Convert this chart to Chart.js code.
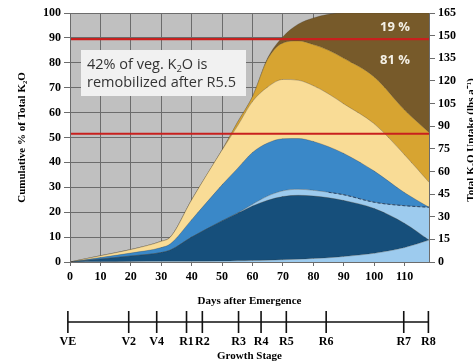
<!DOCTYPE html>
<html>
<head>
<meta charset="utf-8">
<script src="https://cdn.jsdelivr.net/npm/chart.js@4.4.1/dist/chart.umd.min.js"></script>
<style>
  html, body { margin: 0; padding: 0; background: #fff; }
</style>
</head>
<body>
<canvas id="k2o" width="473" height="361"></canvas>
<script>
// days after emergence where the band boundaries are sampled
const days = [0, 10, 20, 30, 33, 40, 50, 55, 60, 65, 70, 75, 80, 85, 90, 100, 110, 118];

// cumulative top of each band, % of total K2O (bottom band first)
const baseBlue   = [0, 0.1, 0.2, 0.3, 0.3, 0.3, 0.4, 0.5, 0.6, 0.7, 0.9, 1.1, 1.4, 1.7, 2.2, 3.5, 5.8, 8.8];
const darkBlue   = [0, 1.2, 2.4, 3.8, 4.8, 10, 16.5, 19.5, 22.5, 24.8, 26.3, 26.8, 26.5, 25.8, 24.7, 21.5, 15.5, 8.8];
const lightBlue  = [0, 1.2, 2.4, 3.8, 4.8, 10, 16.5, 19.6, 23.2, 26.5, 28.6, 29.2, 28.8, 28.0, 27.0, 24.0, 22.6, 22];
const midBlue    = [0, 1.8, 3.6, 5.8, 7.3, 17, 31, 37.5, 44, 47.8, 49.5, 49.6, 48.4, 46.3, 43.6, 36.5, 27.8, 22];
const paleYellow = [0, 2.5, 5, 8.3, 10, 25, 45, 54.5, 64.5, 70.3, 73.3, 73, 70.8, 67.5, 63.5, 55.5, 43, 32];
const gold       = [0, 2.5, 5, 8.3, 10, 25, 45, 56, 66.5, 81.5, 88, 88.8, 87.3, 85, 81.8, 74.3, 61, 52];
const brown      = [0, 2.5, 5, 8.3, 10, 25, 45, 56, 66.5, 82, 90.5, 95.5, 98, 99.5, 100, 100, 100, 100];

// the light blue edge is dashed from this day on
const dashFrom = 85;

// reference levels (red lines)
const refLevels = [89.5, 51.5];

// growth stages along the day axis
const stageNames = ["VE", "V2", "V4", "R1", "R2", "R3", "R4", "R5", "R6", "R7", "R8"];
const stageDays  = [-0.7, 19.3, 28.5, 38.3, 43.5, 55.4, 62.8, 71.1, 84.2, 109.7, 117.8];

const uptakeTicks = [0, 15, 30, 45, 60, 75, 90, 105, 120, 135, 150, 165];

const serif = "'Liberation Serif', 'Times New Roman', serif";
const sans = "'Open Sans', 'Noto Sans', sans-serif";

function points(values) {
  return days.map((d, i) => ({ x: d, y: values[i] }));
}

function band(values, color, fill) {
  return {
    data: points(values),
    backgroundColor: color,
    borderColor: "rgba(50,40,25,0.35)",
    borderWidth: 0.7,
    pointRadius: 0,
    cubicInterpolationMode: "monotone",
    fill: fill,
  };
}

function refLine(v) {
  return {
    data: [{ x: 0, y: v }, { x: 118, y: v }],
    borderColor: "#c8201e",
    borderWidth: 2.2,
    pointRadius: 0,
    fill: false,
    order: -1,
  };
}

const dashedEdge = {
  data: points(lightBlue).filter((p) => p.x >= dashFrom),
  borderColor: "#24466e",
  borderWidth: 1,
  borderDash: [3, 2],
  pointRadius: 0,
  cubicInterpolationMode: "monotone",
  fill: false,
  order: -1,
};

const datasets = [
  band(baseBlue, "#9dcbee", "origin"),
  band(darkBlue, "#164f7b", "-1"),
  band(lightBlue, "#9dcbee", "-1"),
  band(midBlue, "#3a88c8", "-1"),
  band(paleYellow, "#f9dc96", "-1"),
  band(gold, "#d7a431", "-1"),
  band(brown, "#775a2a", "-1"),
  dashedEdge,
].concat(refLevels.map(refLine));

// grey plot background, annotations, right title and the growth stage scale
const decor = {
  id: "decor",
  beforeDraw(chart) {
    const { ctx, chartArea: a } = chart;
    ctx.save();
    ctx.fillStyle = "#c0c0c0";
    ctx.fillRect(a.left, a.top, a.right - a.left, a.bottom - a.top);
    ctx.restore();
  },
  afterDraw(chart) {
    const { ctx } = chart;
    const xs = chart.scales.x;
    ctx.save();

    // note box
    ctx.fillStyle = "#f1f1f1";
    ctx.fillRect(81, 50, 165, 46);
    ctx.fillStyle = "#333";
    ctx.textBaseline = "middle";
    ctx.textAlign = "left";
    const big = "14.5px " + sans;
    const small = "9.5px " + sans;
    let x = 87;
    ctx.font = big;
    ctx.fillText("42% of veg. K", x, 65);
    x += ctx.measureText("42% of veg. K").width;
    ctx.font = small;
    ctx.fillText("2", x, 69);
    x += ctx.measureText("2").width;
    ctx.font = big;
    ctx.fillText("O is", x, 65);
    ctx.fillText("remobilized after R5.5", 87, 83);

    // percentages in the brown band
    ctx.fillStyle = "#f4f0e6";
    ctx.font = "bold 13px " + sans;
    ctx.textAlign = "center";
    ctx.fillText("19 %", 395, 27);
    ctx.fillText("81 %", 395, 60);

    // right axis title, cut by the canvas edge
    ctx.fillStyle = "#000";
    ctx.font = "bold 11px " + serif;
    ctx.translate(471, 140);
    ctx.rotate(-Math.PI / 2);
    ctx.fillText("Total K\u2082O Uptake (lbs a\u207B\u00B9)", 0, 0);
    ctx.setTransform(1, 0, 0, 1, 0, 0);

    // growth stage scale
    const lineY = 322;
    const px = stageDays.map((d) => xs.getPixelForValue(d));
    ctx.strokeStyle = "#111";
    ctx.lineWidth = 1.6;
    ctx.beginPath();
    ctx.moveTo(px[0], lineY);
    ctx.lineTo(px[px.length - 1], lineY);
    px.forEach((p) => {
      ctx.moveTo(p, lineY - 11);
      ctx.lineTo(p, lineY + 11);
    });
    ctx.stroke();
    ctx.fillStyle = "#000";
    ctx.font = "bold 12px " + serif;
    ctx.textAlign = "center";
    stageNames.forEach((s, i) => ctx.fillText(s, px[i], 342));
    ctx.font = "bold 11px " + serif;
    ctx.fillText("Growth Stage", (xs.left + xs.right) / 2, 356);
    ctx.restore();
  },
};

const tickFont = { family: serif, size: 12, weight: "bold" };
const gridColor = "#6c6c6c";

new Chart(document.getElementById("k2o"), {
  type: "line",
  data: { datasets },
  options: {
    responsive: false,
    animation: false,
    layout: { padding: { top: 13, bottom: 50, left: 0, right: 0 } },
    plugins: { legend: { display: false }, tooltip: { enabled: false } },
    scales: {
      x: {
        type: "linear",
        min: 0,
        max: 118,
        ticks: { stepSize: 10, includeBounds: false, font: tickFont, color: "#000", padding: 4, maxRotation: 0 },
        grid: { color: gridColor, tickLength: 4, tickColor: gridColor },
        border: { color: gridColor },
        title: { display: true, text: "Days after Emergence", font: { family: serif, size: 11, weight: "bold" }, color: "#000", padding: { top: 0, bottom: 3 } },
        afterFit(s) { s.height = 49; },
      },
      y: {
        min: 0,
        max: 100,
        ticks: { stepSize: 10, font: tickFont, color: "#000", padding: 3 },
        grid: { color: gridColor, tickLength: 6, tickColor: gridColor },
        border: { color: gridColor, z: 1 },
        title: { display: true, text: "Cumulative % of Total K\u2082O", font: { family: serif, size: 11, weight: "bold" }, color: "#000", padding: { top: 16, bottom: 0 } },
        afterFit(s) { s.width = 70; },
      },
      y2: {
        position: "right",
        min: 0,
        max: 165,
        afterBuildTicks(s) { s.ticks = uptakeTicks.map((v) => ({ value: v })); },
        ticks: { font: tickFont, color: "#000", padding: 3 },
        grid: { drawOnChartArea: false, tickLength: 6, color: gridColor },
        border: { color: gridColor, z: 1 },
        afterFit(s) { s.width = 44; },
      },
    },
  },
  plugins: [decor],
});
</script>
</body>
</html>
